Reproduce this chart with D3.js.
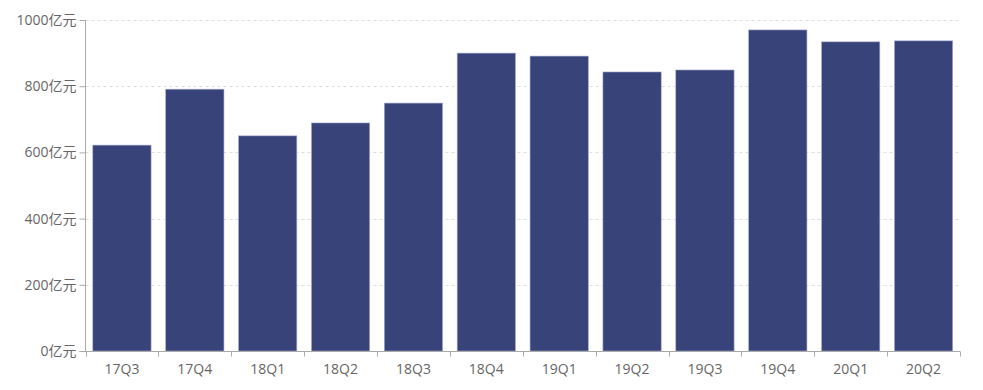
<!DOCTYPE html>
<html><head><meta charset="utf-8">
<script src="https://cdn.jsdelivr.net/npm/d3@7"></script>
<style>body{margin:0;background:#fff}svg{display:block}</style>
</head><body>
<svg id="c" width="983" height="390"></svg>
<script>
const categories = ["17Q3","17Q4","18Q1","18Q2","18Q3","18Q4","19Q1","19Q2","19Q3","19Q4","20Q1","20Q2"];
const values = [622, 791, 650, 689, 749, 900, 891, 843, 849, 970, 934, 937];
const yTicks = [0, 200, 400, 600, 800, 1000];
const unit = "亿元";

const svg = d3.select("#c");
const m = {l:85.5, r:960, t:20, b:351};
const x = d3.scaleBand().domain(categories).range([m.l, m.r]).paddingInner(0.2).paddingOuter(0.1);
const y = d3.scaleLinear().domain([0,1000]).range([m.b, m.t]);
const font = "'Open Sans', 'Noto Sans CJK SC', sans-serif";

// grid
svg.append("g").selectAll("line").data(yTicks.filter(d=>d>0)).join("line")
  .attr("x1", m.l).attr("x2", m.r).attr("y1", d=>Math.round(y(d))+0.5).attr("y2", d=>Math.round(y(d))+0.5)
  .attr("stroke","#dedede").attr("stroke-dasharray","3,3");

// bars
svg.append("g").selectAll("rect").data(values).join("rect")
  .attr("x",(d,i)=>x(categories[i])).attr("width",x.bandwidth())
  .attr("y",d=>y(d)).attr("height",d=>y(0)-y(d))
  .attr("fill","#38437a").attr("stroke","#a9aed0").attr("stroke-width",0.6);

// y axis
const ya = svg.append("g").attr("transform",`translate(${m.l},0)`)
  .call(d3.axisLeft(y).tickValues(yTicks).tickSize(6).tickPadding(3).tickFormat(d=>d+unit));
ya.select(".domain").attr("stroke","#aaa").attr("d",`M0,${m.t}V${m.b}`);
ya.selectAll(".tick line").attr("stroke","#aaa");
ya.selectAll("text").attr("fill","#666").style("font-size","14px").style("font-family",font);

// x axis
const xs = d3.scaleLinear().domain([0,categories.length]).range([m.l,m.r]);
const xg = svg.append("g").attr("transform",`translate(0,${m.b+0.5})`);
xg.append("line").attr("x1",m.l-6).attr("x2",m.r).attr("stroke","#aaa");
xg.selectAll("line.t").data(d3.range(categories.length+1)).join("line").attr("class","t")
  .attr("x1",d=>Math.round(xs(d))+0.5).attr("x2",d=>Math.round(xs(d))+0.5).attr("y1",0).attr("y2",5).attr("stroke","#aaa");
xg.selectAll("text").data(categories).join("text")
  .attr("x",d=>x(d)+x.bandwidth()/2).attr("y",22).attr("text-anchor","middle")
  .attr("fill","#666").style("font-size","14px").style("font-family",font).text(d=>d);
</script>
</body></html>
